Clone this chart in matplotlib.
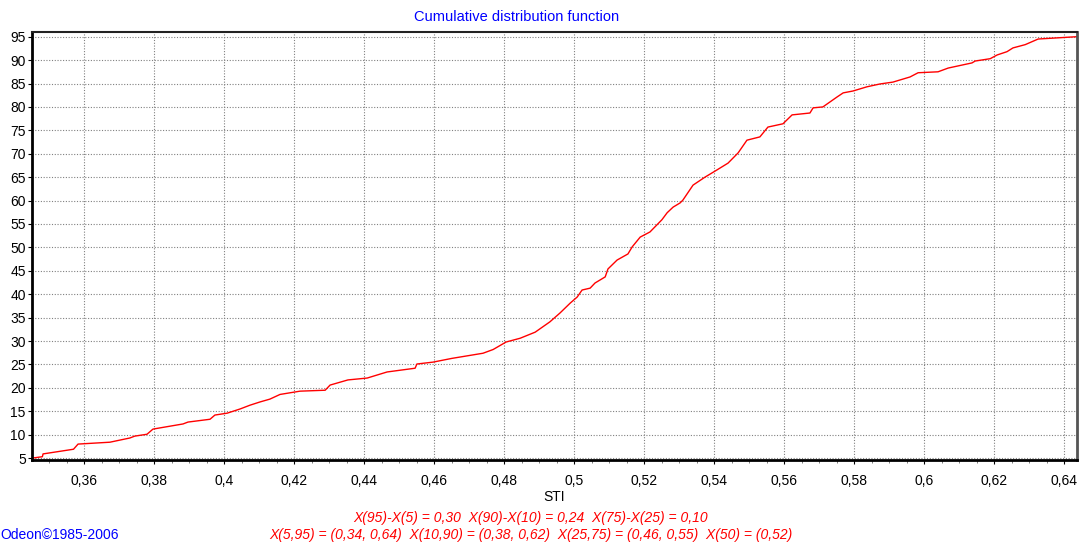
import matplotlib
matplotlib.use("Agg")
import matplotlib.pyplot as plt
from matplotlib.ticker import MultipleLocator, FuncFormatter

# STI values and cumulative percentage
sti = [0.3451, 0.3481, 0.3483, 0.3570, 0.3583, 0.3674, 0.3731, 0.3745, 0.3780, 0.3797,
       0.3883, 0.3897, 0.3960, 0.3974, 0.4009, 0.4046, 0.4074, 0.4103, 0.4131, 0.4160,
       0.4217, 0.4289, 0.4303, 0.4354, 0.4409, 0.4466, 0.4546, 0.4551, 0.4597, 0.4651,
       0.4740, 0.4769, 0.4806, 0.4846, 0.4889, 0.4931, 0.4960, 0.4989, 0.5009, 0.5023,
       0.5046, 0.5060, 0.5089, 0.5097, 0.5123, 0.5154, 0.5166, 0.5189, 0.5217, 0.5251,
       0.5266, 0.5283, 0.5303, 0.5311, 0.5340, 0.5374, 0.5403, 0.5440, 0.5469, 0.5494,
       0.5531, 0.5554, 0.5597, 0.5623, 0.5674, 0.5683, 0.5711, 0.5751, 0.5769, 0.5797,
       0.5837, 0.5874, 0.5911, 0.5960, 0.5983, 0.6040, 0.6069, 0.6137, 0.6146, 0.6189,
       0.6209, 0.6237, 0.6254, 0.6289, 0.6326, 0.6437]
pct = [5.0, 5.3, 5.9, 6.9, 8.0, 8.4, 9.3, 9.7, 10.1, 11.2,
       12.3, 12.7, 13.3, 14.2, 14.6, 15.5, 16.3, 17.0, 17.6, 18.6,
       19.3, 19.5, 20.6, 21.7, 22.1, 23.4, 24.2, 25.1, 25.5, 26.3,
       27.4, 28.2, 29.8, 30.6, 31.9, 34.1, 36.0, 38.1, 39.4, 40.9,
       41.3, 42.4, 43.7, 45.4, 47.3, 48.6, 50.1, 52.2, 53.3, 55.9,
       57.4, 58.6, 59.5, 60.1, 63.3, 65.0, 66.3, 68.0, 70.2, 72.9,
       73.6, 75.7, 76.4, 78.3, 78.7, 79.8, 80.0, 82.1, 83.0, 83.4,
       84.3, 84.9, 85.3, 86.4, 87.3, 87.5, 88.3, 89.4, 89.8, 90.3,
       91.1, 91.8, 92.6, 93.3, 94.5, 95.0]

y_ticks = list(range(5, 100, 5))
title = "Cumulative distribution function"
x_label = "STI"
stats_line1 = "X(95)-X(5) = 0,30  X(90)-X(10) = 0,24  X(75)-X(25) = 0,10"
stats_line2 = "X(5,95) = (0,34, 0,64)  X(10,90) = (0,38, 0,62)  X(25,75) = (0,46, 0,55)  X(50) = (0,52)"
credit = "Odeon\u00a91985-2006"

plt.rcParams["font.family"] = ["Liberation Sans", "DejaVu Sans"]

W, H = 1089, 546
fig = plt.figure(figsize=(W / 100, H / 100), dpi=100)
ax = fig.add_axes([32 / W, 1 - 460 / H, (1077 - 32) / W, (460 - 32) / H])

ax.plot(sti, pct, color="#ff0000", lw=1.0)

ax.set_xlim(0.34514, 0.6437)
ax.set_ylim(4.6, 96.0)
ax.xaxis.set_major_locator(MultipleLocator(0.02))
ax.xaxis.set_minor_locator(MultipleLocator(0.005))
ax.set_yticks(y_ticks)


def comma_fmt(v, pos):
    s = f"{v:.2f}".rstrip("0").rstrip(".")
    return s.replace(".", ",")


ax.xaxis.set_major_formatter(FuncFormatter(comma_fmt))
ax.grid(True, which="major", color="#808080", linestyle=(0, (1, 1.5)), linewidth=0.8)
ax.tick_params(axis="both", which="major", direction="out", length=3, width=0.8,
               labelsize=10, colors="black")
ax.tick_params(axis="x", which="major", pad=7)
ax.tick_params(axis="y", which="major", pad=1.5)
ax.tick_params(axis="x", which="minor", direction="out", length=2.5, width=0.6, colors="#666666")

for side in ["left", "bottom"]:
    ax.spines[side].set_linewidth(2.0)
    ax.spines[side].set_color("black")
ax.spines["top"].set_linewidth(1.5)
ax.spines["top"].set_color("#222222")
ax.spines["right"].set_linewidth(2.0)
ax.spines["right"].set_color("#555555")

fig.text(517 / W, 1 - 17 / H, title, color="#0000ff", fontsize=10.5,
         ha="center", va="center")
fig.text(554.5 / W, 1 - 497 / H, x_label, color="black", fontsize=10,
         ha="center", va="center")
fig.text(531 / W, 1 - 518 / H, stats_line1, color="#ff0000", fontsize=10,
         style="italic", ha="center", va="center")
fig.text(531 / W, 1 - 535 / H, stats_line2, color="#ff0000", fontsize=10,
         style="italic", ha="center", va="center")
fig.text(0 / W, 1 - 535 / H, credit, color="#0000ff", fontsize=10,
         ha="left", va="center")

fig.savefig("out.png", dpi=100)
